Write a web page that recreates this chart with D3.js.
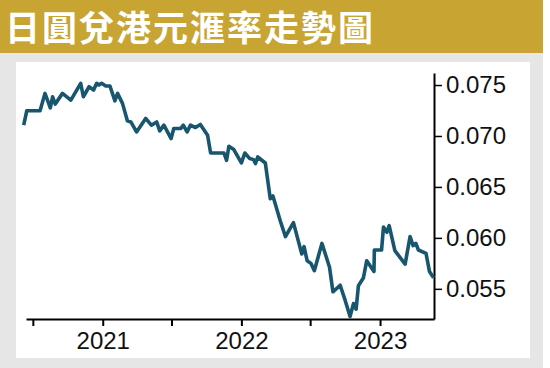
<!DOCTYPE html>
<html>
<head>
<meta charset="utf-8">
<script src="https://cdn.jsdelivr.net/npm/d3@7"></script>
<style>
  body { margin: 0; background: #fff; }
  svg { display: block; }
</style>
</head>
<body>
<svg width="550" height="368"></svg>
<script>
const title = "日圓兌港元滙率走勢圖";

// weekly-ish readings of JPY/HKD
const dates = [
  "2020-06-07", "2020-06-15", "2020-07-20", "2020-08-02", "2020-08-16", "2020-08-22",
  "2020-08-29", "2020-09-17", "2020-10-09", "2020-11-04", "2020-11-11", "2020-11-26",
  "2020-12-08", "2020-12-16", "2020-12-22", "2020-12-29", "2021-01-09", "2021-01-20",
  "2021-02-02", "2021-02-09", "2021-02-22", "2021-03-07", "2021-03-16", "2021-03-31",
  "2021-04-24", "2021-05-09", "2021-05-23", "2021-05-31", "2021-06-11", "2021-06-30",
  "2021-07-07", "2021-07-25", "2021-08-01", "2021-08-11", "2021-08-20", "2021-09-02",
  "2021-09-15", "2021-10-04", "2021-10-12", "2021-11-16", "2021-11-23", "2021-11-29",
  "2021-12-12", "2022-01-01", "2022-01-10", "2022-01-23", "2022-02-02", "2022-02-07",
  "2022-02-13", "2022-03-05", "2022-03-18", "2022-03-25", "2022-04-13", "2022-04-27",
  "2022-05-18", "2022-06-09", "2022-06-15", "2022-06-23", "2022-07-03", "2022-07-12",
  "2022-08-01", "2022-08-21", "2022-08-30", "2022-09-18", "2022-10-01", "2022-10-14",
  "2022-10-23", "2022-10-30", "2022-11-05", "2022-11-18", "2022-11-27", "2022-12-16",
  "2022-12-17", "2023-01-05", "2023-01-10", "2023-01-19", "2023-01-25", "2023-02-09",
  "2023-03-08", "2023-03-21", "2023-03-29", "2023-04-05", "2023-04-12", "2023-05-02",
  "2023-05-11", "2023-05-22"
];
const rates = [
  0.07106, 0.07247, 0.07247, 0.07418, 0.07276, 0.07385,
  0.07313, 0.07418, 0.07352, 0.07517, 0.07385, 0.07483,
  0.07451, 0.07517, 0.07500, 0.07517, 0.07490, 0.07490,
  0.07345, 0.07418, 0.07320, 0.07148, 0.07138, 0.07040,
  0.07172, 0.07106, 0.07138, 0.07050, 0.07106, 0.06975,
  0.07073, 0.07073, 0.07106, 0.07040, 0.07106, 0.07083,
  0.07113, 0.07007, 0.06833, 0.06833, 0.06761, 0.06899,
  0.06867, 0.06735, 0.06833, 0.06778, 0.06768, 0.06729,
  0.06794, 0.06735, 0.06384, 0.06411, 0.06170, 0.06012,
  0.06150, 0.05842, 0.05914, 0.05776, 0.05750, 0.05678,
  0.05946, 0.05712, 0.05471, 0.05535, 0.05389, 0.05229,
  0.05355, 0.05300, 0.05530, 0.05606, 0.05776, 0.05671,
  0.05881, 0.05881, 0.06106, 0.06055, 0.06120, 0.05875,
  0.05742, 0.06013, 0.05924, 0.05947, 0.05881, 0.05848,
  0.05671, 0.05609
];
const yTicks = [0.055, 0.060, 0.065, 0.070, 0.075];
const xTicks = ["2020-07-01", "2021-01-01", "2021-07-01", "2022-01-01", "2022-07-01", "2023-01-01"];
const yearLabels = { 2021: "2021", 2022: "2022", 2023: "2023" };

const parse = d3.timeParse("%Y-%m-%d");
const series = dates.map((d, i) => ({ date: parse(d), value: rates[i] }));

const svg = d3.select("svg");

// backgrounds
svg.append("rect").attr("x", 0).attr("y", 0).attr("width", 543).attr("height", 368).attr("fill", "#e6e6e6");
svg.append("rect").attr("x", 0).attr("y", 0).attr("width", 543).attr("height", 53).attr("fill", "#c8a533");
svg.append("rect").attr("x", 16).attr("y", 62).attr("width", 514).attr("height", 296).attr("fill", "#fff");

svg.append("text")
  .attr("x", 5)
  .attr("y", 41)
  .attr("fill", "#fff")
  .style("font-family", "'Noto Sans CJK TC', 'Noto Sans CJK SC', sans-serif")
  .style("font-weight", "bold")
  .style("font-size", "35px")
  .style("letter-spacing", "2px")
  .text(title);

const x = d3.scaleTime()
  .domain([parse("2020-06-13"), parse("2023-05-23")])
  .range([26, 434]);

const y = d3.scaleLinear()
  .domain([0.05204, 0.07618])
  .range([319, 73]);

const axisFont = "'Liberation Sans', Arial, sans-serif";

const xAxis = svg.append("g")
  .attr("transform", "translate(0,319)")
  .call(d3.axisBottom(x)
    .tickValues(xTicks.map(parse))
    .tickSize(7)
    .tickSizeOuter(0)
    .tickPadding(6)
    .tickFormat(d => yearLabels[d.getFullYear()] && d.getMonth() === 0 ? yearLabels[d.getFullYear()] : ""));
xAxis.select(".domain").attr("stroke-width", 2);
xAxis.selectAll(".tick line").attr("stroke-width", 2);
xAxis.selectAll("text")
  .attr("fill", "#111")
  .style("font-family", axisFont)
  .style("font-size", "24px");

const yAxis = svg.append("g")
  .attr("transform", "translate(434,0)")
  .call(d3.axisRight(y)
    .tickValues(yTicks)
    .tickSize(8)
    .tickSizeOuter(0)
    .tickPadding(4)
    .tickFormat(d3.format(".3f")));
yAxis.select(".domain").attr("stroke-width", 2);
yAxis.selectAll(".tick line").attr("stroke-width", 1.5);
yAxis.selectAll("text")
  .attr("fill", "#111")
  .style("font-family", axisFont)
  .style("font-size", "24px");

const line = d3.line()
  .x(d => x(d.date))
  .y(d => y(d.value));

svg.append("path")
  .datum(series)
  .attr("fill", "none")
  .attr("stroke", "#17566e")
  .attr("stroke-width", 3.6)
  .attr("stroke-linejoin", "round")
  .attr("d", line);
</script>
</body>
</html>
